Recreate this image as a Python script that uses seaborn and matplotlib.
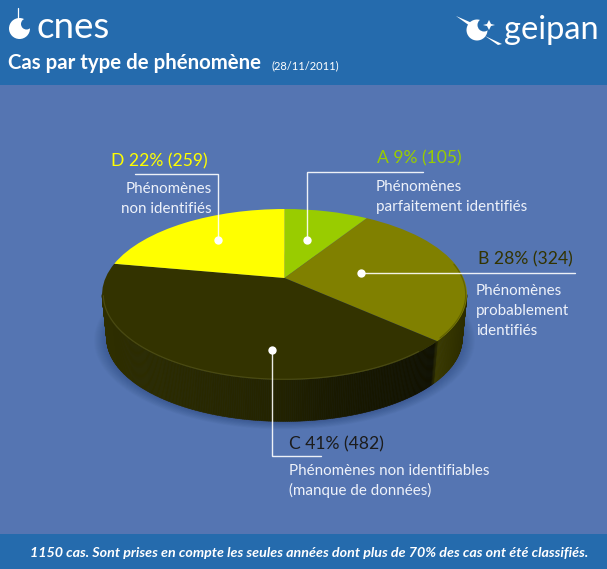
import numpy as np
import seaborn as sns
import matplotlib.pyplot as plt
from matplotlib.patches import Circle, Polygon
from matplotlib.transforms import Transform

# values
categories = ['A', 'B', 'C', 'D']
percents = [9, 28, 41, 22]
counts = [105, 324, 482, 259]
slice_colors = ['#99cc00', '#808000', '#333300', '#ffff00']

BAND = '#256bad'
PANEL = '#5575b2'


# tilted disc: unit circle seen in perspective, to pixel coordinates
class Tilt(Transform):
    input_dims = 2
    output_dims = 2
    is_separable = False
    has_inverse = False

    def __init__(self, drop=0, scale=1.0):
        super().__init__()
        self.drop = drop
        self.scale = scale

    def transform_non_affine(self, values):
        values = np.asarray(values)
        w = 1 + 0.193 * values[:, 1]
        px = 284.5 + self.scale * 179 * values[:, 0] / w
        py = 278 + self.drop - self.scale * 82.3 * values[:, 1] / w
        return np.column_stack([px, py])


def rim(phi, drop=0, scale=1.0):
    phi = np.radians(phi)
    return Tilt(drop, scale).transform_non_affine(np.column_stack([np.cos(phi), np.sin(phi)]))


sns.set_theme(style='white')
plt.rcParams['font.family'] = ['Lato', 'DejaVu Sans']

fig = plt.figure(figsize=(6.07, 5.69), dpi=100, facecolor=PANEL)
ax = fig.add_axes([0, 0, 1, 1])

wedges, _ = ax.pie(counts, colors=slice_colors, startangle=90, counterclock=False)
ax.set_aspect('auto')
ax.set_xlim(0, 607)
ax.set_ylim(569, 0)
ax.axis('off')

for w in wedges:
    w.set_transform(Tilt() + ax.transData)
    w.set_zorder(5)
    w.set_edgecolor('none')
    w.set_clip_on(False)

# header / footer bands
ax.axhspan(0, 85, color=BAND, lw=0, zorder=1)
ax.axhspan(534, 569, color=BAND, lw=0, zorder=1)

# soft shadow under the disc
for i in range(14):
    grow = 1.06 - i * 0.0055
    ax.add_patch(Polygon(rim(np.linspace(0, 360, 180), 45, grow * 0.985), closed=True,
                         facecolor='#1a2a55', alpha=0.025, lw=0, zorder=2))

# side wall, only the front part of slices B and C
LEFT_EDGE, RIGHT_EDGE = -168.9, -11.1
wall_x = [107, 270, 330, 433, 437, 465]
wall_r = [0x2e, 0x24, 0x1a, 0x11, 0x3a, 0x2c]
for w in wedges[1:3]:
    t1, t2 = max(w.theta1, LEFT_EDGE), min(w.theta2, RIGHT_EDGE)
    steps = np.linspace(t1, t2, int(t2 - t1) * 2 + 2)
    for p0, p1 in zip(steps[:-1], steps[1:]):
        seg = np.array([p0, p1])
        quad = np.vstack([rim(seg), rim(seg[::-1], 44, 0.975)])
        r = np.interp(quad[:, 0].mean(), wall_x, wall_r) / 255
        ax.add_patch(Polygon(quad, closed=True, facecolor=(r, r, 0), edgecolor=(r, r, 0),
                             lw=0.4, zorder=3))

# bevel on the front of the rim
bevel = rim(np.linspace(-168, -50, 120), 0, 0.993)
ax.plot(bevel[:, 0], bevel[:, 1], color='#55551a', lw=0.8, alpha=0.7, zorder=6)
bevel = rim(np.linspace(-40, 10, 60), 0, 0.993)
ax.plot(bevel[:, 0], bevel[:, 1], color='#5a5a00', lw=0.8, alpha=0.8, zorder=6)

# leader lines and dots
leaders = [
    ([135, 218, 218], [173.5, 173.5, 240]),
    ([423, 306.5, 306.5], [172, 172, 240]),
    ([361, 575], [272.5, 272.5]),
    ([271.5, 271.5, 321], [350, 456, 456]),
]
dots_x = [218, 306.5, 361, 271.5]
dots_y = [239.5, 240, 272.5, 350]
for lx, ly in leaders:
    ax.plot(lx, ly, color='white', lw=1.0, alpha=0.9, solid_joinstyle='miter', zorder=7)
ax.scatter(dots_x, dots_y, s=36, color='white', lw=0, zorder=8)

# slice labels
head_size = 12.6
body_size = 10.9
name = dict(zip(categories, [f'{c} {p}% ({n})' for c, p, n in zip(categories, percents, counts)]))
ax.text(111, 161, name['D'], color='#ffff00', fontsize=head_size, va='center', zorder=9)
ax.text(377, 158.5, name['A'], color='#99cc00', fontsize=head_size, va='center', zorder=9)
ax.text(478, 259.5, name['B'], color='#333300', fontsize=head_size, va='center', zorder=9)
ax.text(289, 444, name['C'], color='#1c1c1c', fontsize=head_size, va='center', zorder=9)

body = dict(color='#eef2fa', fontsize=body_size, va='center', zorder=9)
ax.text(212, 188.5, 'Phénomènes', ha='right', **body)
ax.text(212, 208.5, 'non identifiés', ha='right', **body)
ax.text(376, 186.5, 'Phénomènes', **body)
ax.text(376, 206.5, 'parfaitement identifiés', **body)
ax.text(476, 290.5, 'Phénomènes', **body)
ax.text(476, 310.5, 'probablement', **body)
ax.text(476, 330.5, 'identifiés', **body)
ax.text(289, 471, 'Phénomènes non identifiables', **body)
ax.text(289, 490.5, '(manque de données)', **body)

# header text
ax.text(8, 63, 'Cas par type de phénomène', color='white', fontsize=14.7, fontweight='bold',
        va='center', zorder=9)
ax.text(271, 65.5, '(28/11/2011)', color='white', fontsize=8, va='center', zorder=9)
ax.text(588, 553, '1150 cas. Sont prises en compte les seules années dont plus de 70% des cas ont été classifiés.',
        color='white', fontsize=10.3, fontstyle='italic', fontweight='bold', ha='right', va='center', zorder=9)

# cnes logo
ax.add_patch(Circle((19.5, 28.5), 10.5, facecolor='white', lw=0, zorder=3))
ax.add_patch(Circle((26.5, 24), 5.5, facecolor=BAND, lw=0, zorder=4))
ax.plot([17.5, 17.5], [8, 21], color='white', lw=0.9, zorder=5)
ax.text(37, 27.5, 'cnes', color='white', fontsize=26.5, fontweight='normal', va='center', zorder=5)

# geipan logo
ax.add_patch(Circle((477, 30), 10.5, facecolor='white', lw=0, zorder=3))
ax.add_patch(Circle((484, 25), 6.5, facecolor=BAND, lw=0, zorder=4))
ax.add_patch(Polygon([(456, 16), (472, 23), (470, 26)], closed=True, facecolor='white', lw=0, zorder=5))
ax.add_patch(Polygon([(485, 36), (502, 44), (498, 45)], closed=True, facecolor='white', lw=0, zorder=5))
ax.add_patch(Polygon([(489, 20), (491, 24), (495, 25), (491, 26), (489, 30), (487, 26), (483, 25), (487, 24)],
                     closed=True, facecolor='white', lw=0, zorder=5))
ax.text(598.5, 29.5, 'geipan', color='white', fontsize=23.5, fontweight='normal', ha='right', va='center', zorder=5)

fig.savefig('out.png', dpi=100, facecolor=PANEL)
